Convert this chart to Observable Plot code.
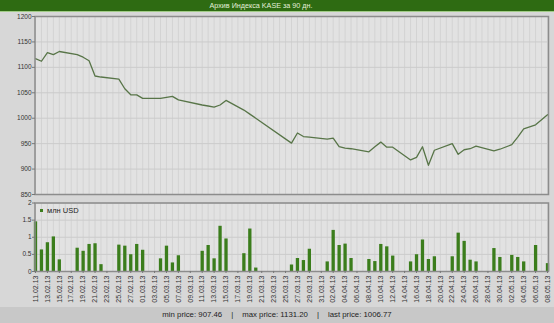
<!DOCTYPE html>
<html><head><meta charset="utf-8">
<script src="https://cdn.jsdelivr.net/npm/d3@7"></script>
<script src="https://cdn.jsdelivr.net/npm/@observablehq/plot@0.6"></script>
<style>
html,body{margin:0;padding:0;background:#d7d7d7;width:554px;height:323px;overflow:hidden;font-family:"Liberation Sans",Arial,sans-serif;}
#wrap{position:relative;width:554px;height:323px;}
#title{position:absolute;left:0;top:0;width:522px;padding-right:32px;height:10.5px;background:#2e6b12;border-bottom:1.5px solid #a2cc88;color:#e4f0da;font-size:7.2px;line-height:11px;text-align:center;}
#top{position:absolute;left:0;top:12px;}
#bot{position:absolute;left:0;top:198px;}
#legend{position:absolute;left:40px;top:206px;font-size:7.5px;color:#222;display:flex;align-items:center;}
#legend i{display:inline-block;width:3px;height:3.5px;background:#3b7d1c;margin-right:4px;}
#footer{position:absolute;left:0;top:307px;width:554px;height:16px;background:#c8c8c8;color:#222;font-size:7.8px;line-height:16px;text-align:center;}
#footer span.sep{padding:0 9px;}
svg{overflow:visible}
</style></head>
<body><div id="wrap">
<div id="title">Архив Индекса KASE за 90 дн.</div>
<div id="top"></div>
<div id="bot"></div>
<div id="legend"><i></i>млн USD</div>
<div id="footer"></div>
</div>
<script>
const titleText = "Архив Индекса KASE за 90 дн.";
const legendText = "млн USD";
const footerParts = ["min price: 907.46", "max price: 1131.20", "last price: 1006.77"];

const dates = [
"2013-02-11","2013-02-12","2013-02-13","2013-02-14","2013-02-15",
"2013-02-18","2013-02-19","2013-02-20","2013-02-21","2013-02-22",
"2013-02-25","2013-02-26","2013-02-27","2013-02-28","2013-03-01",
"2013-03-04","2013-03-05","2013-03-06","2013-03-07",
"2013-03-11","2013-03-12","2013-03-13","2013-03-14","2013-03-15",
"2013-03-18","2013-03-19","2013-03-20",
"2013-03-26","2013-03-27","2013-03-28","2013-03-29",
"2013-04-01","2013-04-02","2013-04-03","2013-04-04","2013-04-05",
"2013-04-08","2013-04-09","2013-04-10","2013-04-11","2013-04-12",
"2013-04-15","2013-04-16","2013-04-17","2013-04-18","2013-04-19",
"2013-04-22","2013-04-23","2013-04-24","2013-04-25","2013-04-26",
"2013-04-29","2013-04-30",
"2013-05-02","2013-05-03","2013-05-04",
"2013-05-06",
"2013-05-08"];

const price = [
1117,1112,1129,1125,1131.20,
1125,1120,1113,1083,1081,
1077,1058,1046,1046,1039,
1039,1041,1043,1036,
1026,1024,1022,1026,1035,
1016,1008,1000,
951,971,964,963,
959,961,944,941,940,
934,944,953,943,943,
918,923,944,907.46,937,
950,929,938,940,945,
936,939,
948,963,979,
987,
1006.77];

const volume = [
1.45,0.63,0.84,1.01,0.34,
0.68,0.59,0.79,0.81,0.20,
0.77,0.74,0.49,0.79,0.62,
0.37,0.74,0.25,0.46,
0.59,0.76,0.37,1.32,0.95,
0.52,1.24,0.10,
0.19,0.38,0.32,0.65,
0.28,1.20,0.76,0.80,0.38,
0.35,0.29,0.79,0.72,0.45,
0.28,0.49,0.92,0.35,0.43,
0.43,1.12,0.88,0.33,0.28,
0.67,0.41,
0.47,0.41,0.28,
0.76,
0.23];

const priceTicks = [850,900,950,1000,1050,1100,1150,1200];
const volumeTicks = [0,0.5,1,1.5,2];
const xTickLabels = [
"11.02.13","13.02.13","15.02.13","17.02.13","19.02.13","21.02.13","23.02.13","25.02.13","27.02.13",
"01.03.13","03.03.13","05.03.13","07.03.13","09.03.13","11.03.13","13.03.13","15.03.13","17.03.13",
"19.03.13","21.03.13","23.03.13","25.03.13","27.03.13","29.03.13","31.03.13",
"02.04.13","04.04.13","06.04.13","08.04.13","10.04.13","12.04.13","14.04.13","16.04.13","18.04.13",
"20.04.13","22.04.13","24.04.13","26.04.13","28.04.13","30.04.13",
"02.05.13","04.05.13","06.05.13","08.05.13"];

document.getElementById("title").textContent = titleText;
document.getElementById("legend").innerHTML = '<i></i>' + legendText;
document.getElementById("footer").innerHTML = footerParts.map(p => '<span>' + p + '</span>').join('<span class="sep">|</span>');

const parseLabel = s => { const [d, m, y] = s.split("."); return new Date(Date.UTC(2000 + +y, +m - 1, +d)); };
const fmt = d3.utcFormat("%d.%m.%y");
const tickDates = xTickLabels.map(parseLabel);
const rows = dates.map((d, i) => ({date: new Date(d + "T00:00:00Z"), price: price[i], volume: volume[i]}));
const x0 = tickDates[0], x1 = tickDates[tickDates.length - 1];
const allDays = d3.utcDay.range(x0, d3.utcDay.offset(x1, 1));

const W = 554;
const common = {
  width: W, marginLeft: 35, marginRight: 7,
  style: {background: "transparent", fontFamily: "Liberation Sans, Arial, sans-serif", color: "#333"},
};

const topPlot = Plot.plot({
  ...common,
  height: 186, marginTop: 4, marginBottom: 4,
  x: {type: "utc", domain: [x0, x1]},
  y: {domain: [850, 1200]},
  marks: [
    Plot.frame({fill: "#e2e2e2", stroke: null}),
    Plot.ruleX(allDays, {stroke: "#d3d3d3", strokeWidth: 1}),
    Plot.ruleY(priceTicks, {stroke: "#cbcbcb", strokeWidth: 1}),
    Plot.line(rows, {x: "date", y: "price", stroke: "#587548", strokeWidth: 1.3}),
    Plot.frame({stroke: "#8c8c8c", strokeWidth: 1.5, insetLeft: -0.5, insetRight: -1}),
    Plot.axisY(priceTicks, {tickSize: 3, tickPadding: 1, fontSize: 6.5, label: null, tickFormat: d => String(d), fill: "#333", stroke: "#777"}),
    Plot.axisX({ticks: [], label: null})
  ]
});
document.getElementById("top").appendChild(topPlot);

const botPlot = Plot.plot({
  ...common,
  height: 110, marginTop: 4.5, marginBottom: 37,
  x: {type: "utc", domain: [x0, x1]},
  y: {domain: [0, 2]},
  marks: [
    Plot.frame({fill: "#e2e2e2", stroke: null}),
    Plot.ruleX(allDays, {stroke: "#d3d3d3", strokeWidth: 1}),
    Plot.ruleY(volumeTicks, {stroke: "#cbcbcb", strokeWidth: 1}),
    Plot.ruleX(rows, {x: "date", y1: 0, y2: "volume", stroke: "#3b7d1c", strokeWidth: 3.3}),
    Plot.frame({stroke: "#8c8c8c", strokeWidth: 1.5, insetLeft: -0.5, insetRight: -1}),
    Plot.axisY(volumeTicks, {tickSize: 3, tickPadding: 1, fontSize: 6.5, label: null, tickFormat: d => String(d), fill: "#333", stroke: "#777"}),
    Plot.axisX(tickDates, {tickRotate: -90, tickSize: 2, tickPadding: 2, fontSize: 7, tickFormat: d => fmt(d), label: null, fill: "#333", stroke: "#777"})
  ]
});
document.getElementById("bot").appendChild(botPlot);
</script>
</body></html>
